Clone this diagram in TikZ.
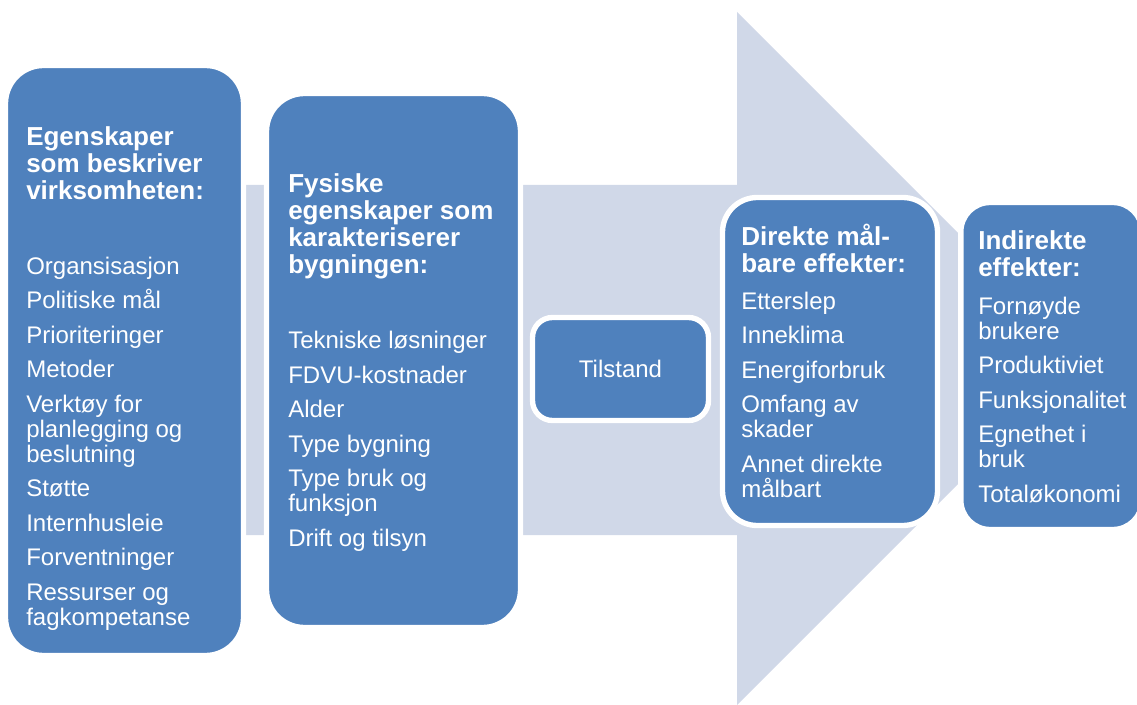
\documentclass[tikz,border=0pt]{standalone}
\usepackage{fontspec}
\setmainfont{Liberation Sans}
\definecolor{boxblue}{HTML}{4F81BD}
\definecolor{arrowgray}{HTML}{D0D8E8}

\begin{document}
\begin{tikzpicture}[x=0.75pt,y=-0.75pt,
  stage/.style={fill=boxblue,draw=white,line width=4pt,inner sep=0pt},
  % text blocks are placed by the baseline of their last line
  head/.style={anchor=base west,inner sep=0pt,text=white,align=left,
    font=\fontsize{19.5}{20.25}\selectfont\bfseries},
  items/.style={anchor=base west,inner sep=0pt,text=white,align=left,
    font=\fontsize{18}{18.75}\selectfont},
]
\useasboundingbox (0,0) rectangle (1137,705);

% the broad background arrow
\fill[arrowgray] (60,185) -- (737,185) -- (737,12) -- (1083.5,358.5)
  -- (737,705) -- (737,535) -- (60,535) -- cycle;

% stage boxes
\node[stage,rounded corners=28.5pt,minimum width=178.5pt,minimum height=442.5pt]
  (virksomhet) at (124.5,360.5) {};
\node[stage,rounded corners=28.5pt,minimum width=190.5pt,minimum height=400.5pt]
  (bygning) at (393.5,360.5) {};
\node[stage,rounded corners=15pt,minimum width=132pt,minimum height=77.25pt,
  text=white,font=\fontsize{18}{18.75}\selectfont]
  (tilstand) at (620.5,369) {Tilstand};
\node[stage,rounded corners=26pt,minimum width=161.25pt,minimum height=246pt]
  (direkte) at (830,361.5) {};
\node[stage,rounded corners=22pt,minimum width=136pt,minimum height=245.25pt]
  (indirekte) at (1051.5,366) {};

% box texts
\node[head] (virksomhetHead) at (26,200) {Egenskaper\\som beskriver\\virksomheten:};
\node[items] (virksomhetList) at (26,625) {Organsisasjon\\[7.1pt]
  Politiske mål\\[7.1pt]
  Prioriteringer\\[7.1pt]
  Metoder\\[7.1pt]
  Verktøy for\\planlegging og\\beslutning\\[7.1pt]
  Støtte\\[7.1pt]
  Internhusleie\\[7.1pt]
  Forventninger\\[7.1pt]
  Ressurser og\\fagkompetanse};

\node[head] (bygningHead) at (288,274) {Fysiske\\egenskaper som\\karakteriserer\\bygningen:};
\node[items] (bygningList) at (288,546) {Tekniske løsninger\\[7.1pt]
  FDVU-kostnader\\[7.1pt]
  Alder\\[7.1pt]
  Type bygning\\[7.1pt]
  Type bruk og\\funksjon\\[7.1pt]
  Drift og tilsyn};

\node[head] (direkteHead) at (741,273) {Direkte mål-\\bare effekter:};
\node[items] (direkteList) at (741,497) {Etterslep\\[7.1pt]
  Inneklima\\[7.1pt]
  Energiforbruk\\[7.1pt]
  Omfang av\\skader\\[7.1pt]
  Annet direkte\\målbart};

\node[head] (indirekteHead) at (978,277) {Indirekte\\effekter:};
\node[items] (indirekteList) at (978,502) {Fornøyde\\brukere\\[7.1pt]
  Produktiviet\\[7.1pt]
  Funksjonalitet\\[7.1pt]
  Egnethet i\\bruk\\[7.1pt]
  Totaløkonomi};
\end{tikzpicture}
\end{document}
